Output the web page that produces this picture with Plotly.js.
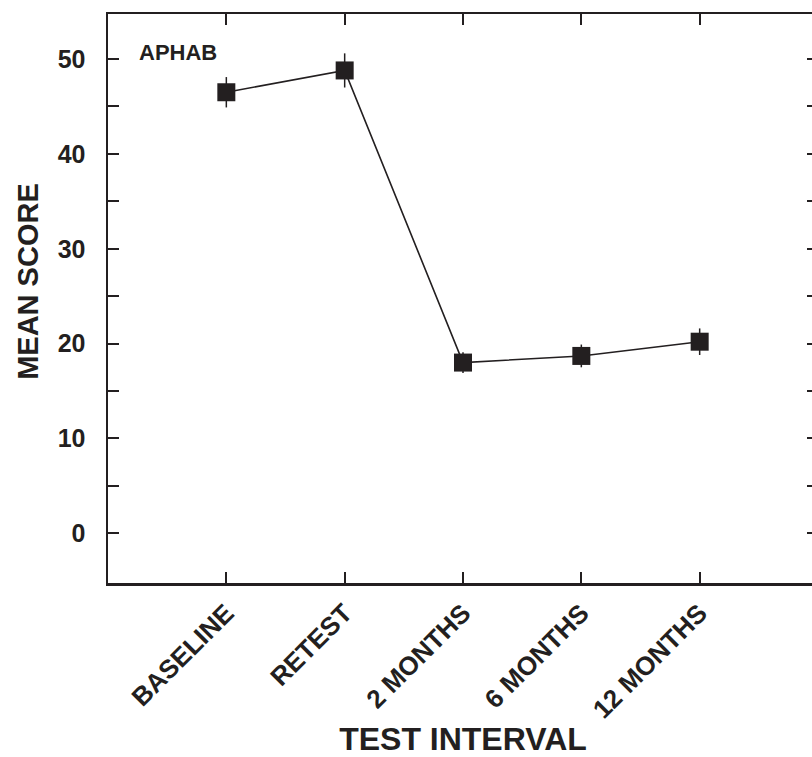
<!DOCTYPE html>
<html>
<head>
<meta charset="utf-8">
<script src="https://cdn.plot.ly/plotly-3.0.1.min.js"></script>
<style>html,body{margin:0;padding:0;overflow:hidden;background:#fff;}</style>
</head>
<body>
<div id="chart"></div>
<script>
const categories = ["BASELINE", "RETEST", "2 MONTHS", "6 MONTHS", "12 MONTHS"];
const meanScores = [46.5, 48.8, 18.0, 18.7, 20.2];
const errors = [1.6, 1.8, 1.1, 1.2, 1.4];
const yTickVals = [0, 5, 10, 15, 20, 25, 30, 35, 40, 45, 50];
const yTickText = ["0", "", "10", "", "20", "", "30", "", "40", "", "50"];

const ink = "#231f20";
const font = "'Liberation Sans', Arial, Helvetica, sans-serif";

const trace = {
  x: categories.map((c, i) => i),
  y: meanScores,
  type: "scatter",
  mode: "lines+markers",
  line: {color: ink, width: 1.6},
  marker: {symbol: "square", size: 18, color: ink},
  error_y: {type: "data", array: errors, visible: true, color: ink, thickness: 1.5, width: 0}
};

const layout = {
  width: 830, height: 757,
  margin: {l: 108, r: 12, t: 14, b: 174},
  paper_bgcolor: "#fff", plot_bgcolor: "#fff",
  showlegend: false,
  font: {family: font, color: ink},
  xaxis: {
    range: [-1, 5],
    tickvals: categories.map((c, i) => i),
    ticktext: categories,
    tickangle: -45,
    ticks: "inside", ticklen: 11, tickwidth: 2, tickcolor: ink,
    ticklabelstandoff: 2,
    showline: true, linewidth: 2.5, linecolor: ink, mirror: "ticks",
    showgrid: false, zeroline: false,
    tickfont: {family: font, size: 26, color: ink, weight: "bold"},
    title: {text: "TEST INTERVAL", font: {family: font, size: 32, color: ink, weight: "bold"}, standoff: 14}
  },
  yaxis: {
    range: [-5.24, 54.75],
    tickvals: yTickVals,
    ticktext: yTickText,
    ticks: "inside", ticklen: 11, tickwidth: 2, tickcolor: ink,
    ticklabelstandoff: 15,
    showline: true, linewidth: 2.5, linecolor: ink, mirror: "ticks",
    showgrid: false, zeroline: false,
    tickfont: {family: font, size: 25, color: ink, weight: "bold"}
  },
  annotations: [{
    text: "APHAB", xref: "paper", yref: "paper", x: 0.041, y: 0.933,
    xanchor: "left", yanchor: "middle", showarrow: false,
    font: {family: font, size: 22, color: ink, weight: "bold"}
  }, {
    text: "MEAN SCORE", xref: "paper", yref: "paper", x: -0.1127, y: 0.531,
    xanchor: "center", yanchor: "middle", textangle: -90, showarrow: false,
    font: {family: font, size: 29, color: ink, weight: "bold"}
  }]
};

Plotly.newPlot("chart", [trace], layout, {displayModeBar: false, staticPlot: true});
</script>
</body>
</html>
